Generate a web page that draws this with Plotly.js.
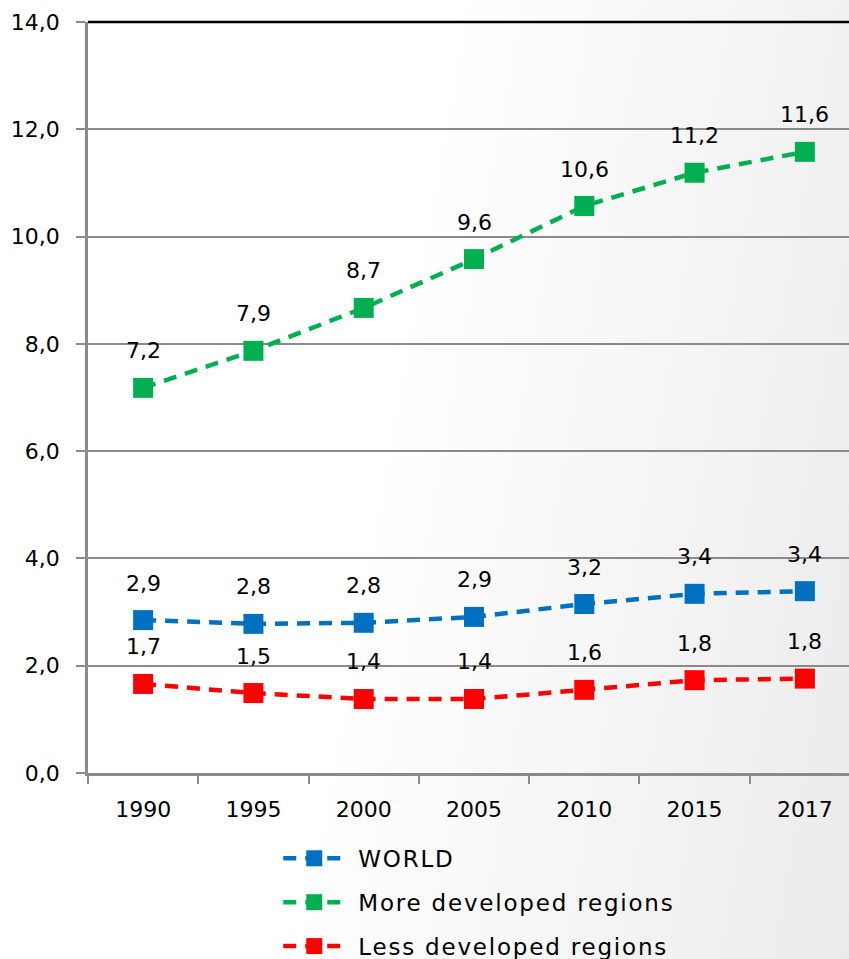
<!DOCTYPE html>
<html>
<head>
<meta charset="utf-8">
<script src="https://cdn.plot.ly/plotly-3.0.1.min.js"></script>
<style>
html,body{margin:0;padding:0;}
body{width:849px;height:959px;background:linear-gradient(100deg,#ffffff 0%,#ffffff 45%,#ebebeb 100%);}
#chart{width:849px;height:959px;}
#chart .legendtext{letter-spacing:1.8px;transform:translateX(8px);}
#chart .legend .scrollbox{clip-path:none !important;}
</style>
</head>
<body>
<div id="chart"></div>
<script>
const years = ['1990','1995','2000','2005','2010','2015','2017'];
const worldValues = [2.85, 2.78, 2.80, 2.91, 3.15, 3.34, 3.39];
const worldLabels = ['2,9','2,8','2,8','2,9','3,2','3,4','3,4'];
const moreValues = [7.18, 7.87, 8.67, 9.58, 10.57, 11.19, 11.58];
const moreLabels = ['7,2','7,9','8,7','9,6','10,6','11,2','11,6'];
const lessValues = [1.66, 1.49, 1.38, 1.38, 1.55, 1.73, 1.76];
const lessLabels = ['1,7','1,5','1,4','1,4','1,6','1,8','1,8'];
const yTickVals = [0,2,4,6,8,10,12,14];
const yTickText = ['0,0','2,0','4,0','6,0','8,0','10,0','12,0','14,0'];

const seriesDefs = [
  {name:'WORLD', y:worldValues, labels:worldLabels, color:'#0070C0'},
  {name:'More developed regions', y:moreValues, labels:moreLabels, color:'#00B050'},
  {name:'Less developed regions', y:lessValues, labels:lessLabels, color:'#FF0000'}
];

const FONT = 'DejaVu Sans, sans-serif';

const traces = seriesDefs.map((s, k) => ({
  type:'scatter', mode:'lines+markers', name:s.name, legendgroup:'g' + k,
  x:years, y:s.y,
  line:{color:s.color, width:4.5, dash:'13px,9px'},
  marker:{symbol:'square', size:20, color:s.color},
  cliponaxis:false
}));

const annotations = [];
seriesDefs.forEach(s => {
  s.y.forEach((v, i) => {
    annotations.push({x:i, y:v, xref:'x', yref:'y', text:s.labels[i],
      showarrow:false, yshift:37, font:{family:FONT, size:22, color:'#000000'}});
  });
});

const layout = {
  width:849, height:959,
  margin:{l:88, r:0, t:22, b:186, autoexpand:false},
  paper_bgcolor:'rgba(0,0,0,0)', plot_bgcolor:'rgba(0,0,0,0)',
  font:{family:FONT, size:22, color:'#000'},
  showlegend:true,
  legend:{orientation:'v', x:0.25, xanchor:'left', y:-0.085, yanchor:'top',
    font:{family:FONT, size:23, color:'#000'}, itemwidth:62, bgcolor:'rgba(0,0,0,0)',
    tracegroupgap:11},
  xaxis:{type:'category', range:[-0.5, 6.4], tickson:'boundaries',
    ticks:'outside', ticklen:8, tickwidth:2, tickcolor:'#8a8a8a',
    showline:true, linecolor:'#8a8a8a', linewidth:2.5, showgrid:false, zeroline:false,
    tickfont:{family:FONT, size:22, color:'#000'}, ticklabelstandoff:15},
  yaxis:{range:[0,14], tickvals:yTickVals, ticktext:yTickText,
    ticks:'outside', ticklen:9, tickwidth:2, tickcolor:'#8a8a8a',
    showline:true, linecolor:'#8a8a8a', linewidth:2.5,
    showgrid:true, gridcolor:'#8a8a8a', gridwidth:1.5, zeroline:false,
    tickfont:{family:FONT, size:22, color:'#000'}, ticklabelstandoff:12},
  shapes:[{type:'line', xref:'paper', yref:'paper', x0:0, x1:1, y0:1, y1:1,
    line:{color:'#000000', width:2.5}}],
  annotations:annotations
};

Plotly.newPlot('chart', traces, layout, {displayModeBar:false});
</script>
</body>
</html>
